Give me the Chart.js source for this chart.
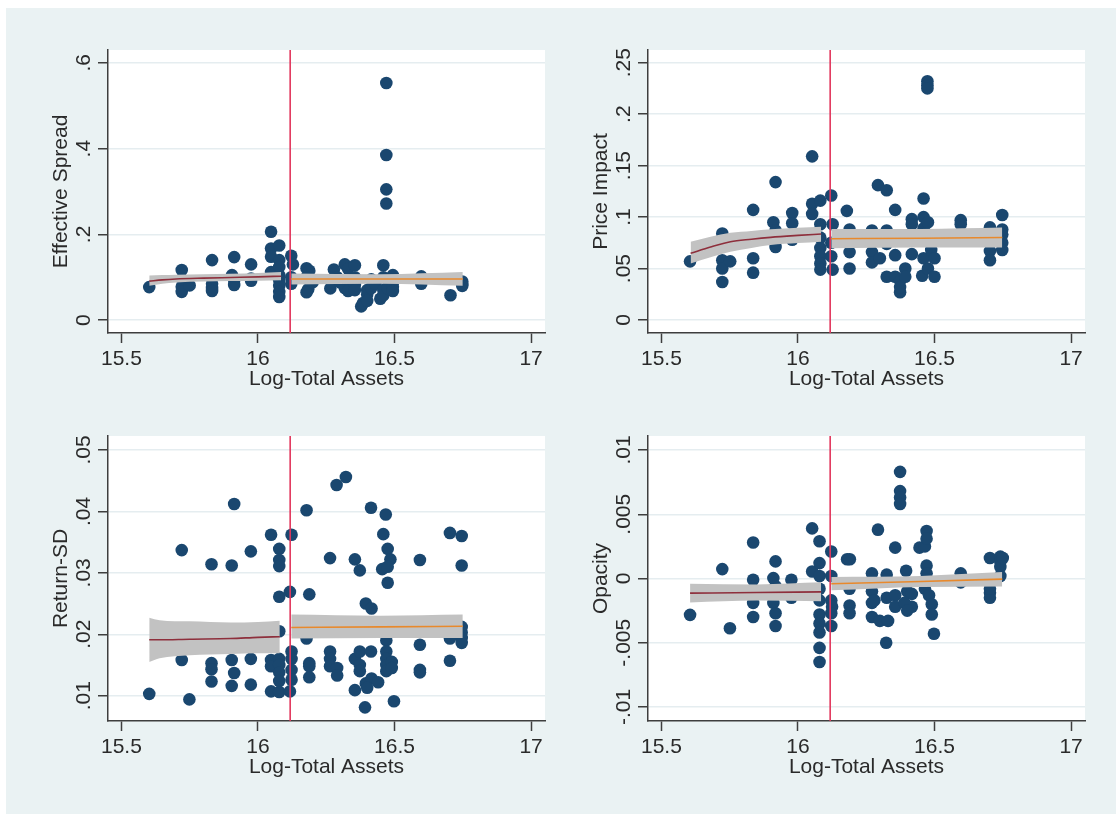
<!DOCTYPE html>
<html>
<head>
<meta charset="utf-8">
<title>Liquidity measures against bank size</title>
<script src="https://cdn.jsdelivr.net/npm/chart.js@4.4.1/dist/chart.umd.min.js"></script>
<style>
  html, body { margin: 0; padding: 0; background: #ffffff; }
  body { width: 1116px; height: 814px; position: relative; overflow: hidden; }
  #frame { position: absolute; left: 6px; top: 8px; right: 0; bottom: 0; background: #eaf2f3; }
  canvas { position: absolute; }
</style>
</head>
<body>
<div id="frame"></div>
<canvas id="c1"></canvas>
<canvas id="c2"></canvas>
<canvas id="c3"></canvas>
<canvas id="c4"></canvas>
<script>
// ---- shared x axis ----
const xTicks = [15.5, 16, 16.5, 17];
const xTickLabels = ['15.5', '16', '16.5', '17'];
const xTitle = 'Log-Total Assets';
const cutoff = 16.118;

// ---- Effective Spread ----
const spreadTicks = [0, 0.2, 0.4, 0.6];
const spreadTickLabels = ['0', '.2', '.4', '.6'];
const spreadPoints = [
  [15.602, 0.077],
  [15.721, 0.117], [15.721, 0.078], [15.721, 0.066], [15.750, 0.081],
  [15.832, 0.140], [15.832, 0.085], [15.832, 0.075], [15.832, 0.068],
  [15.913, 0.147], [15.905, 0.105], [15.913, 0.093], [15.913, 0.082],
  [15.975, 0.130], [15.975, 0.097], [15.975, 0.092],
  [16.048, 0.206], [16.048, 0.167], [16.048, 0.148], [16.048, 0.112],
  [16.078, 0.174], [16.078, 0.140], [16.078, 0.124], [16.078, 0.105], [16.078, 0.093],
  [16.078, 0.080], [16.078, 0.066], [16.078, 0.054],
  [16.122, 0.150], [16.128, 0.130], [16.122, 0.100], [16.122, 0.085],
  [16.178, 0.121], [16.188, 0.115], [16.178, 0.100], [16.184, 0.072], [16.178, 0.065], [16.200, 0.088],
  [16.265, 0.074], [16.278, 0.118], [16.290, 0.100], [16.300, 0.088],
  [16.318, 0.130], [16.330, 0.120], [16.318, 0.075], [16.330, 0.068],
  [16.355, 0.128], [16.355, 0.100], [16.355, 0.082], [16.355, 0.070],
  [16.378, 0.032], [16.385, 0.040], [16.400, 0.060], [16.400, 0.070],
  [16.415, 0.095], [16.415, 0.075], [16.400, 0.045], [16.430, 0.085],
  [16.448, 0.050], [16.459, 0.128], [16.459, 0.100], [16.459, 0.070], [16.459, 0.058],
  [16.470, 0.553], [16.470, 0.385], [16.470, 0.305], [16.470, 0.272],
  [16.475, 0.095], [16.475, 0.075],
  [16.494, 0.105], [16.494, 0.088], [16.494, 0.078], [16.494, 0.068],
  [16.598, 0.102], [16.598, 0.085],
  [16.705, 0.058],
  [16.748, 0.090], [16.748, 0.085], [16.748, 0.080]
];
// rows: [x, fitted, lower, upper]
const spreadFitBelow = [
  [15.602, 0.091, 0.080, 0.104], [15.650, 0.094, 0.085, 0.105], [15.700, 0.096, 0.088, 0.106],
  [15.800, 0.098, 0.090, 0.107], [15.900, 0.0995, 0.091, 0.108], [16.000, 0.101, 0.092, 0.110],
  [16.085, 0.1025, 0.093, 0.112]
];
const spreadFitAbove = [
  [16.122, 0.096, 0.083, 0.109], [16.450, 0.096, 0.085, 0.107], [16.750, 0.096, 0.080, 0.112]
];

// ---- Price Impact ----
const impactTicks = [0, 0.05, 0.1, 0.15, 0.2, 0.25];
const impactTickLabels = ['0', '.05', '.1', '.15', '.2', '.25'];
const impactPoints = [
  [15.605, 0.057],
  [15.723, 0.084], [15.723, 0.058], [15.723, 0.050], [15.752, 0.057], [15.723, 0.037],
  [15.836, 0.107], [15.836, 0.080], [15.836, 0.060], [15.836, 0.046],
  [15.918, 0.134], [15.910, 0.095], [15.918, 0.087], [15.918, 0.076], [15.918, 0.071],
  [15.979, 0.104], [15.979, 0.094], [15.979, 0.078],
  [16.052, 0.159], [16.052, 0.113], [16.052, 0.103],
  [16.082, 0.116], [16.082, 0.093], [16.082, 0.080], [16.082, 0.070], [16.082, 0.062],
  [16.082, 0.055], [16.082, 0.049],
  [16.122, 0.121], [16.127, 0.093], [16.122, 0.075], [16.122, 0.062], [16.127, 0.049],
  [16.179, 0.106], [16.189, 0.088], [16.189, 0.078], [16.189, 0.066], [16.189, 0.050],
  [16.271, 0.087], [16.271, 0.066], [16.271, 0.056],
  [16.293, 0.131], [16.325, 0.126], [16.325, 0.087], [16.325, 0.074], [16.325, 0.042], [16.300, 0.060],
  [16.356, 0.107], [16.356, 0.063], [16.356, 0.042],
  [16.374, 0.038], [16.374, 0.027], [16.374, 0.032],
  [16.393, 0.050], [16.393, 0.042],
  [16.417, 0.098], [16.417, 0.093], [16.417, 0.064],
  [16.460, 0.118], [16.460, 0.100], [16.460, 0.089], [16.476, 0.095], [16.460, 0.060],
  [16.455, 0.043], [16.476, 0.050], [16.488, 0.068],
  [16.474, 0.232], [16.474, 0.228], [16.474, 0.225],
  [16.500, 0.060], [16.500, 0.042],
  [16.596, 0.097], [16.596, 0.093],
  [16.703, 0.090], [16.703, 0.079], [16.703, 0.067], [16.703, 0.058],
  [16.748, 0.102], [16.748, 0.088], [16.748, 0.083], [16.748, 0.075], [16.748, 0.068]
];
const impactFitBelow = [
  [15.607, 0.0648, 0.0550, 0.0760], [15.680, 0.0710, 0.0610, 0.0810], [15.753, 0.0761, 0.0664, 0.0848],
  [15.830, 0.0785, 0.0700, 0.0865], [15.900, 0.0803, 0.0729, 0.0881], [16.000, 0.0822, 0.0748, 0.0897],
  [16.085, 0.0836, 0.0761, 0.0907]
];
const impactFitAbove = [
  [16.122, 0.0790, 0.0697, 0.0885], [16.450, 0.0795, 0.0705, 0.0885], [16.748, 0.0802, 0.0705, 0.0898]
];

// ---- Return-SD ----
const returnTicks = [0.01, 0.02, 0.03, 0.04, 0.05];
const returnTickLabels = ['.01', '.02', '.03', '.04', '.05'];
const returnPoints = [
  [15.602, 0.0103],
  [15.721, 0.0337], [15.721, 0.0158], [15.749, 0.0094],
  [15.830, 0.0314], [15.830, 0.0153], [15.830, 0.0143], [15.830, 0.0123],
  [15.904, 0.0312], [15.913, 0.0412], [15.904, 0.0158], [15.913, 0.0137], [15.904, 0.0116],
  [15.974, 0.0335], [15.974, 0.0160], [15.974, 0.0118],
  [16.048, 0.0362], [16.048, 0.0158], [16.048, 0.0148], [16.048, 0.0107],
  [16.078, 0.0339], [16.078, 0.0321], [16.078, 0.0311], [16.078, 0.0261], [16.078, 0.0205],
  [16.078, 0.0160], [16.078, 0.0150], [16.078, 0.0138], [16.078, 0.0124], [16.078, 0.0106],
  [16.123, 0.0362], [16.117, 0.0269], [16.123, 0.0172], [16.123, 0.0160], [16.123, 0.0142],
  [16.123, 0.0126], [16.117, 0.0107],
  [16.178, 0.0402], [16.188, 0.0265], [16.178, 0.0193], [16.188, 0.0153], [16.188, 0.0148], [16.188, 0.0130],
  [16.264, 0.0324], [16.264, 0.0172], [16.264, 0.0160], [16.264, 0.0148], [16.290, 0.0145], [16.290, 0.0133],
  [16.288, 0.0443], [16.322, 0.0456],
  [16.355, 0.0322], [16.355, 0.0160], [16.355, 0.0109],
  [16.373, 0.0304], [16.373, 0.0172], [16.373, 0.0150], [16.373, 0.0140],
  [16.395, 0.0250], [16.416, 0.0242], [16.392, 0.0081], [16.395, 0.0120], [16.416, 0.0128], [16.400, 0.0113],
  [16.414, 0.0406], [16.414, 0.0172], [16.440, 0.0122],
  [16.459, 0.0363], [16.468, 0.0395], [16.475, 0.0339], [16.485, 0.0322], [16.455, 0.0306],
  [16.475, 0.0310], [16.475, 0.0284],
  [16.470, 0.0190], [16.470, 0.0172], [16.470, 0.0160], [16.470, 0.0150], [16.470, 0.0140],
  [16.490, 0.0155], [16.490, 0.0145],
  [16.498, 0.0091],
  [16.593, 0.0321], [16.593, 0.0183], [16.593, 0.0142], [16.593, 0.0138],
  [16.703, 0.0365], [16.703, 0.0157], [16.703, 0.0193],
  [16.746, 0.0360], [16.746, 0.0312], [16.746, 0.0212], [16.746, 0.0203], [16.746, 0.0194], [16.746, 0.0186]
];
const returnFitBelow = [
  [15.602, 0.0191, 0.0155, 0.0227], [15.640, 0.0191, 0.0161, 0.0223], [15.750, 0.0192, 0.0166, 0.0221],
  [15.900, 0.0193, 0.0168, 0.0219], [16.000, 0.0195, 0.0169, 0.0220], [16.080, 0.0196, 0.0169, 0.0222]
];
const returnFitAbove = [
  [16.122, 0.0211, 0.0193, 0.0232], [16.450, 0.0212, 0.0194, 0.0230], [16.750, 0.0213, 0.0194, 0.0232]
];

// ---- Opacity ----
const opacityTicks = [-0.01, -0.005, 0, 0.005, 0.01];
const opacityTickLabels = ['-.01', '-.005', '0', '.005', '.01'];
const opacityPoints = [
  [15.605, -0.00283],
  [15.723, 0.00073], [15.751, -0.00387],
  [15.836, 0.0028], [15.836, -0.0001], [15.836, -0.0019], [15.836, -0.0030],
  [15.918, 0.00133], [15.910, 0.00003], [15.918, -0.0006], [15.910, -0.0019], [15.918, -0.0027], [15.918, -0.0037],
  [15.976, -0.0001], [15.976, -0.0015],
  [16.052, 0.0039], [16.052, 0.00055],
  [16.079, 0.0029], [16.079, 0.0012], [16.079, 0.0002], [16.079, -0.0008], [16.079, -0.0017],
  [16.079, -0.0028], [16.079, -0.0035], [16.079, -0.0042], [16.079, -0.0054], [16.079, -0.0065],
  [16.122, 0.0021], [16.122, 0.0002], [16.122, -0.0017], [16.125, -0.0022], [16.122, -0.0027], [16.122, -0.0037],
  [16.180, 0.0015], [16.190, 0.0015], [16.189, -0.0008], [16.189, -0.0021], [16.189, -0.0027],
  [16.271, 0.0004], [16.271, -0.0010], [16.271, -0.0019], [16.271, -0.0030],
  [16.293, 0.0038], [16.280, -0.0017], [16.300, -0.0033],
  [16.323, -0.0050], [16.325, 0.0003], [16.325, -0.0015], [16.330, -0.0033],
  [16.356, 0.0024], [16.356, -0.0013], [16.356, -0.0022],
  [16.374, 0.0083], [16.374, 0.0068], [16.374, 0.0063], [16.374, 0.0058],
  [16.396, 0.0006], [16.400, -0.0010], [16.417, -0.0012], [16.417, -0.0022], [16.390, -0.0019], [16.400, -0.0025],
  [16.445, 0.0024], [16.465, 0.0025],
  [16.471, 0.0037], [16.471, 0.0031], [16.471, 0.0010], [16.471, 0.0004], [16.465, -0.0008],
  [16.480, -0.0013], [16.490, -0.0020], [16.490, -0.0028],
  [16.498, -0.0043],
  [16.596, 0.0004], [16.596, -0.0003],
  [16.703, 0.0016], [16.703, -0.0011], [16.703, -0.0015], [16.703, -0.0008],
  [16.741, 0.0017], [16.741, 0.0013], [16.741, 0.0009], [16.741, 0.0002], [16.750, 0.0016]
];
const opacityFitBelow = [
  [15.605, -0.00114, -0.00187, -0.00041], [15.850, -0.00109, -0.00172, -0.00046], [16.085, -0.00104, -0.00178, -0.00030]
];
const opacityFitAbove = [
  [16.122, -0.00041, -0.00092, 0.00012], [16.450, -0.00023, -0.00066, 0.00020], [16.748, -0.00005, -0.00062, 0.00050]
];

// ---- styling ----
const NAVY = '#1a476f';
const MAROON = '#8e2f3c';
const ORANGE = '#e8892c';
const BAND = '#c2c2c2';
const AXIS = '#3e3e3e';
const GRID = '#e5edf0';
const XLINE = '#e2375d';
const TEXT = '#2a2a2a';
const FONT = '21px "Liberation Sans", Arial, sans-serif';
const X_MIN = 15.451, X_MAX = 17.051;

const panels = [
  { id: 'c1', box: { l: 108, t: 50, r: 545, b: 333 }, yMin: -0.030, yMax: 0.630,
    yTicks: spreadTicks, yTickLabels: spreadTickLabels, yTitle: 'Effective Spread',
    points: spreadPoints, fitBelow: spreadFitBelow, fitAbove: spreadFitAbove },
  { id: 'c2', box: { l: 648, t: 50, r: 1085, b: 333 }, yMin: -0.0126, yMax: 0.2623,
    yTicks: impactTicks, yTickLabels: impactTickLabels, yTitle: 'Price Impact',
    points: impactPoints, fitBelow: impactFitBelow, fitAbove: impactFitAbove },
  { id: 'c3', box: { l: 108, t: 436, r: 545, b: 721 }, yMin: 0.00588, yMax: 0.05228,
    yTicks: returnTicks, yTickLabels: returnTickLabels, yTitle: 'Return-SD',
    points: returnPoints, fitBelow: returnFitBelow, fitAbove: returnFitAbove },
  { id: 'c4', box: { l: 648, t: 436, r: 1085, b: 721 }, yMin: -0.01109, yMax: 0.01109,
    yTicks: opacityTicks, yTickLabels: opacityTickLabels, yTitle: 'Opacity',
    points: opacityPoints, fitBelow: opacityFitBelow, fitAbove: opacityFitAbove }
];

const PAD = { l: 70, t: 20, r: 20, b: 70 };

function col(rows, k) { return rows.map(r => ({ x: r[0], y: r[k] })); }

function panelPlugin(p) {
  return {
    id: 'panelDecor',
    beforeDraw(chart) {
      const { ctx, chartArea: a } = chart;
      ctx.save();
      ctx.fillStyle = '#ffffff';
      ctx.fillRect(a.left, a.top, a.right - a.left, a.bottom - a.top);
      ctx.restore();
    },
    afterDatasetsDraw(chart) {
      const { ctx, chartArea: a, scales } = chart;
      const x = scales.x.getPixelForValue(cutoff);
      ctx.save();
      ctx.strokeStyle = XLINE;
      ctx.lineWidth = 1.6;
      ctx.beginPath();
      ctx.moveTo(x, a.top);
      ctx.lineTo(x, a.bottom);
      ctx.stroke();
      ctx.restore();
    },
    afterDraw(chart) {
      const { ctx, chartArea: a, scales } = chart;
      ctx.save();
      ctx.font = FONT;
      ctx.fillStyle = TEXT;
      // x tick labels and title
      ctx.textAlign = 'center';
      ctx.textBaseline = 'alphabetic';
      xTicks.forEach((v, i) => {
        ctx.fillText(xTickLabels[i], scales.x.getPixelForValue(v), a.bottom + 32);
      });
      ctx.fillText(xTitle, (a.left + a.right) / 2, a.bottom + 52);
      // rotated y tick labels and title
      p.yTicks.forEach((v, i) => {
        ctx.save();
        ctx.translate(a.left - 18.5, scales.y.getPixelForValue(v));
        ctx.rotate(-Math.PI / 2);
        ctx.fillText(p.yTickLabels[i], 0, 0);
        ctx.restore();
      });
      ctx.save();
      ctx.translate(a.left - 41, (a.top + a.bottom) / 2);
      ctx.rotate(-Math.PI / 2);
      ctx.fillText(p.yTitle, 0, 0);
      ctx.restore();
      ctx.restore();
    }
  };
}

function bandSet(rows, k, fill) {
  return {
    type: 'line', data: col(rows, k), borderColor: 'rgba(0,0,0,0)', borderWidth: 0,
    pointRadius: 0, fill: fill, backgroundColor: BAND, order: 3,
    cubicInterpolationMode: 'monotone'
  };
}

function fitSet(rows, color) {
  return {
    type: 'line', data: col(rows, 1), borderColor: color, borderWidth: 1.6,
    pointRadius: 0, fill: false, order: 2, cubicInterpolationMode: 'monotone'
  };
}

panels.forEach(p => {
  const canvas = document.getElementById(p.id);
  const w = p.box.r - p.box.l + PAD.l + PAD.r;
  const h = p.box.b - p.box.t + PAD.t + PAD.b;
  canvas.width = w; canvas.height = h;
  canvas.style.width = w + 'px'; canvas.style.height = h + 'px';
  canvas.style.left = (p.box.l - PAD.l) + 'px';
  canvas.style.top = (p.box.t - PAD.t) + 'px';

  new Chart(canvas, {
    type: 'scatter',
    data: {
      datasets: [
        bandSet(p.fitBelow, 2, false),
        bandSet(p.fitBelow, 3, '-1'),
        bandSet(p.fitAbove, 2, false),
        bandSet(p.fitAbove, 3, '-1'),
        fitSet(p.fitBelow, MAROON),
        fitSet(p.fitAbove, ORANGE),
        {
          type: 'scatter', data: p.points.map(([x, y]) => ({ x, y })),
          pointRadius: 6.3, pointHoverRadius: 6.3, backgroundColor: NAVY,
          borderWidth: 0, order: 5
        }
      ]
    },
    options: {
      responsive: false, animation: false, devicePixelRatio: 1,
      layout: { padding: { left: 0, top: PAD.t, right: PAD.r, bottom: 0 } },
      plugins: { legend: { display: false }, tooltip: { enabled: false } },
      scales: {
        x: {
          type: 'linear', min: X_MIN, max: X_MAX,
          afterBuildTicks: s => { s.ticks = xTicks.map(v => ({ value: v })); },
          afterFit: s => { s.height = PAD.b; },
          ticks: { display: false },
          grid: { drawOnChartArea: false, drawTicks: true, tickLength: 10, tickColor: AXIS, tickWidth: 1.5 },
          border: { display: true, color: AXIS, width: 1.5 }
        },
        y: {
          type: 'linear', min: p.yMin, max: p.yMax,
          afterBuildTicks: s => { s.ticks = p.yTicks.map(v => ({ value: v })); },
          afterFit: s => { s.width = PAD.l; },
          ticks: { display: false },
          grid: { drawOnChartArea: true, color: GRID, lineWidth: 1.5, drawTicks: true,
                  tickLength: 10, tickColor: AXIS, tickWidth: 1.5 },
          border: { display: true, color: AXIS, width: 1.5 }
        }
      }
    },
    plugins: [panelPlugin(p)]
  });
});
</script>
</body>
</html>
